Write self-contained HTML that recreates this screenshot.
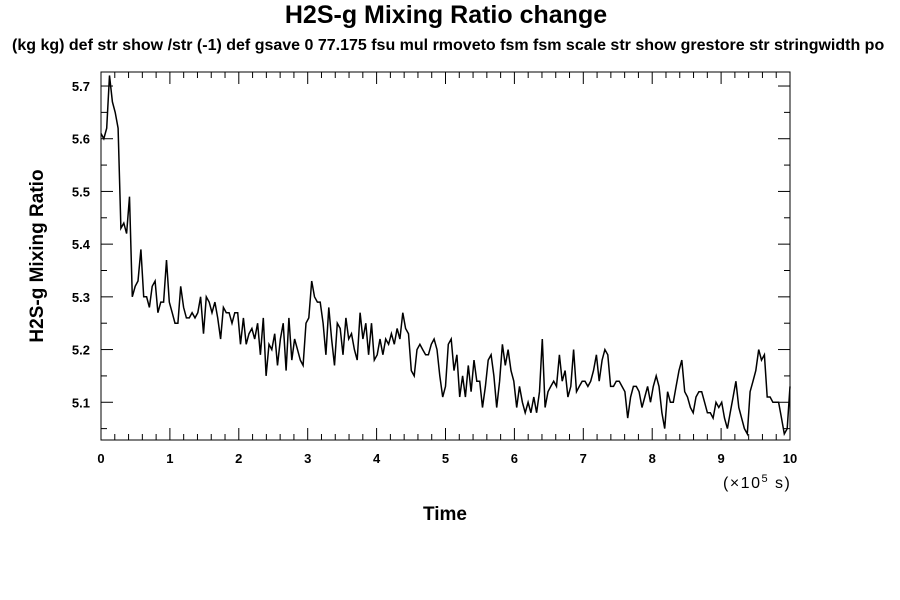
<!DOCTYPE html>
<html><head><meta charset="utf-8"><style>
body{margin:0;background:#fff;}
svg{display:block;font-family:"Liberation Sans",sans-serif;}
</style></head><body>
<svg id="chart" width="900" height="600" viewBox="0 0 900 600">
<rect width="900" height="600" fill="#fff"/>
<text x="446" y="23" text-anchor="middle" font-size="25" font-weight="bold">H2S-g Mixing Ratio change</text>
<text x="12" y="50" font-size="16" font-weight="bold">(kg kg) def str show /str (-1) def gsave 0 77.175 fsu mul rmoveto fsm fsm scale str show grestore str stringwidth po</text>
<text transform="translate(43,256) rotate(-90)" text-anchor="middle" font-size="19" font-weight="bold">H2S-g Mixing Ratio</text>
<text x="445" y="520" text-anchor="middle" font-size="19" font-weight="bold">Time</text>
<text x="723" y="488" font-size="16" letter-spacing="1.5">(×10<tspan baseline-shift="super" font-size="11">5</tspan> s)</text>
<g id="axes"></g>
<path id="series" fill="none" stroke="#000" stroke-width="1.5"/>
<rect x="101" y="72" width="689" height="368" fill="none" stroke="#000" stroke-width="1"/>
</svg>
<script>
const values=[5.61,5.60,5.62,5.72,5.67,5.65,5.62,5.43,5.44,5.42,5.49,
5.30,5.32,5.33,5.39,5.30,5.30,5.28,5.32,5.33,5.27,5.29,5.29,5.37,5.29,5.27,5.25,5.25,5.32,5.28,5.26,5.26,5.27,5.26,5.27,5.30,5.23,5.30,5.29,5.27,5.29,5.26,5.22,5.28,5.27,5.27,5.25,5.27,5.27,5.21,5.26,5.21,5.23,5.24,5.22,5.25,5.19,5.26,5.15,5.21,5.20,5.23,5.17,5.22,5.25,5.16,5.26,5.18,5.22,5.20,5.18,5.17,5.25,5.26,5.33,5.30,5.29,5.29,5.25,5.19,5.28,5.22,5.17,5.25,5.24,5.19,5.26,5.22,5.23,5.20,5.18,5.27,5.22,5.25,5.19,5.25,5.18,5.19,5.22,5.19,5.22,5.21,5.23,5.21,5.24,5.22,5.27,5.24,5.23,5.16,5.15,5.20,5.21,5.20,5.19,5.19,5.21,5.22,5.20,5.15,5.11,5.13,5.21,5.22,5.16,5.19,5.11,5.15,5.11,5.17,5.12,5.18,5.14,5.14,5.09,5.13,5.18,5.19,5.15,5.09,5.14,5.21,5.17,5.20,5.16,5.14,5.09,5.13,5.10,5.08,5.10,5.08,5.11,5.08,5.12,5.22,5.09,5.12,5.13,5.14,5.13,5.19,5.14,5.16,5.11,5.13,5.20,5.12,5.13,5.14,5.14,5.13,5.14,5.16,5.19,5.14,5.18,5.20,5.19,5.13,5.13,5.14,5.14,5.13,5.12,5.07,5.11,5.13,5.13,5.12,5.09,5.11,5.13,5.10,5.13,5.15,5.13,5.08,5.05,5.12,5.10,5.10,5.13,5.16,5.18,5.12,5.11,5.09,5.08,5.11,5.12,5.12,5.10,5.08,5.08,5.07,5.10,5.09,5.10,5.07,5.05,5.08,5.11,5.14,5.09,5.07,5.05,5.04,5.12,5.14,5.16,5.20,5.18,5.19,5.11,5.11,5.10,5.10,5.10,5.07,5.04,5.05,5.13];
const xTicks=[0,1,2,3,4,5,6,7,8,9,10];
const yTicks=[5.1,5.2,5.3,5.4,5.5,5.6,5.7];
const xMin=0,xMax=10,yMin=5.0284,yMax=5.7266;
const L=101,R=790,T=72,B=440;
const sx=v=>L+(v-xMin)/(xMax-xMin)*(R-L);
const sy=v=>B-(v-yMin)/(yMax-yMin)*(B-T);
const NS="http://www.w3.org/2000/svg";
const axes=document.getElementById('axes');
function line(x1,y1,x2,y2,name){const l=document.createElementNS(NS,'line');
l.setAttribute('x1',x1);l.setAttribute('y1',y1);l.setAttribute('x2',x2);l.setAttribute('y2',y2);
l.setAttribute('stroke','#000');l.setAttribute('stroke-width','1');


axes.appendChild(l);}
function text(x,y,s,anchor,name){const t=document.createElementNS(NS,'text');
t.setAttribute('x',x);t.setAttribute('y',y);t.setAttribute('text-anchor',anchor);
t.setAttribute('font-size','13');t.setAttribute('font-weight','bold');t.textContent=s;


axes.appendChild(t);}
for(let v=0;v<=10.001;v+=0.2){const x=sx(v);const maj=Math.abs(v-Math.round(v))<1e-6;const len=maj?12:6;
line(x,B,x,B-len,'x-tick');line(x,T,x,T+len,'x-tick-top');}
xTicks.forEach(v=>text(sx(v),463,String(v),'middle','x-tick-label'));
for(let k=0;k<30;k++){const v=5.05+k*0.05;if(v>yMax)break;const y=sy(v);const maj=k%2===1;const len=maj?12:6;
line(L,y,L+len,y,'y-tick');line(R,y,R-len,y,'y-tick-right');}
yTicks.forEach(v=>text(90,sy(v)+5,v.toFixed(1),'end','y-tick-label'));
const n=values.length;
document.getElementById('series').setAttribute('d',values.map((v,i)=>(i?'L':'M')+sx(xMin+i/(n-1)*(xMax-xMin)).toFixed(1)+','+sy(v).toFixed(1)).join(''));
</script>
</body></html>
